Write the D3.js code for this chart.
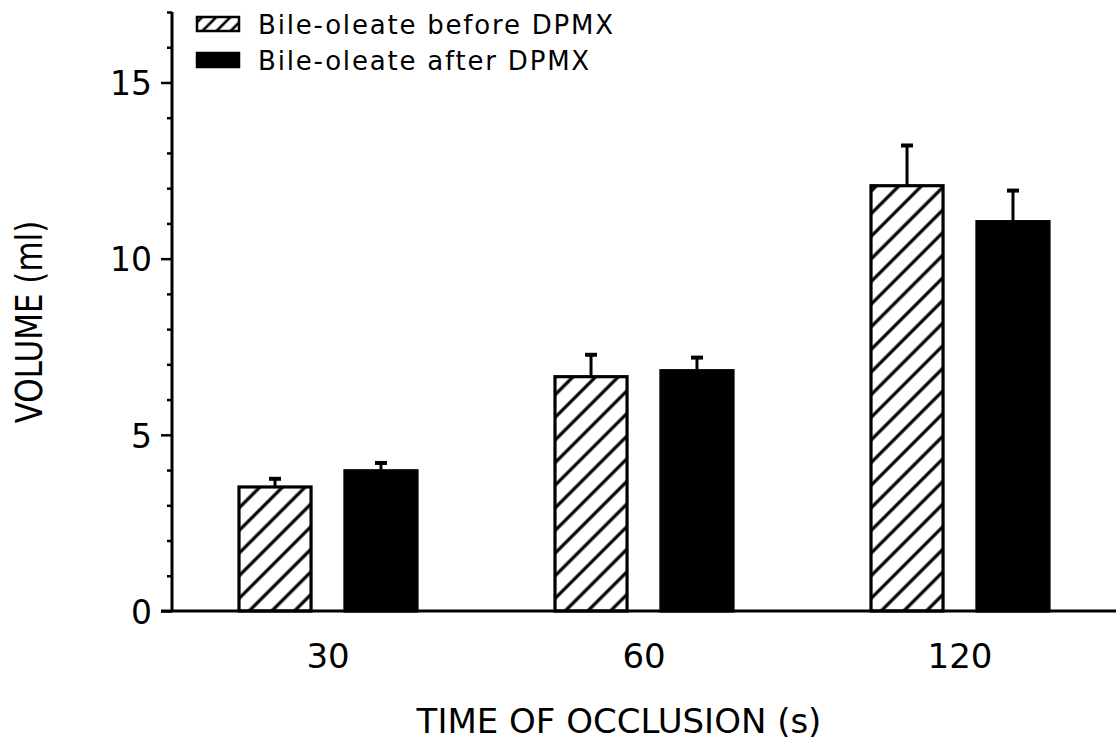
<!DOCTYPE html>
<html>
<head>
<meta charset="utf-8">
<script src="https://cdn.jsdelivr.net/npm/d3@7"></script>
<style>
  html, body { margin: 0; padding: 0; background: #fff; }
  svg text { font-family: "DejaVu Sans", sans-serif; fill: #000; }
</style>
</head>
<body>
<svg id="chart" width="1118" height="744"></svg>
<script>
const categories = ["30", "60", "120"];
const seriesNames = ["Bile-oleate before DPMX", "Bile-oleate after DPMX"];
const beforeValues = [3.52, 6.65, 12.07];
const beforeErrors = [0.26, 0.65, 1.17];
const afterValues = [3.98, 6.82, 11.05];
const afterErrors = [0.25, 0.40, 0.91];
const yMajorTicks = [0, 5, 10, 15];
const yMinorTicks = [1, 2, 3, 4, 6, 7, 8, 9, 11, 12, 13, 14, 16, 17];
const xTitle = "TIME OF OCCLUSION (s)";
const yTitle = "VOLUME (ml)";

const svg = d3.select("#chart");
const defs = svg.append("defs");

function hatch(id, spacing, sw) {
  const p = defs.append("pattern")
    .attr("id", id)
    .attr("patternUnits", "userSpaceOnUse")
    .attr("width", spacing).attr("height", spacing)
    .attr("patternTransform", "rotate(45)");
  p.append("rect").attr("width", spacing).attr("height", spacing).attr("fill", "#fff");
  p.append("line").attr("x1", spacing / 2).attr("y1", 0).attr("x2", spacing / 2).attr("y2", spacing)
    .attr("stroke", "#000").attr("stroke-width", sw);
}
hatch("hatch", 16, 3.2);
hatch("hatchSmall", 10, 2.6);

const y = d3.scaleLinear().domain([0, 17]).range([611, 12]);
const x0 = d3.scaleBand().domain(categories).range([170, 1118]).paddingInner(0).paddingOuter(0);
const x1 = d3.scaleBand().domain(seriesNames).range([69, 247]).paddingInner(0.32).paddingOuter(0);

const data = categories.map((c, i) => ({
  cat: c,
  bars: [
    { s: seriesNames[0], v: beforeValues[i], e: beforeErrors[i] },
    { s: seriesNames[1], v: afterValues[i], e: afterErrors[i] }
  ]
}));

const fills = { [seriesNames[0]]: "url(#hatch)", [seriesNames[1]]: "#000" };

const groups = svg.append("g").selectAll("g").data(data).join("g")
  .attr("transform", d => `translate(${x0(d.cat)},0)`);

groups.selectAll("g.err").data(d => d.bars).join("g").attr("class", "err")
  .each(function(d) {
    const g = d3.select(this);
    const cx = x1(d.s) + x1.bandwidth() / 2;
    g.append("line").attr("x1", cx).attr("x2", cx)
      .attr("y1", y(d.v)).attr("y2", y(d.v + d.e))
      .attr("stroke", "#000").attr("stroke-width", 3);
    g.append("line").attr("x1", cx - 6).attr("x2", cx + 6)
      .attr("y1", y(d.v + d.e) + 1).attr("y2", y(d.v + d.e) + 1)
      .attr("stroke", "#000").attr("stroke-width", 4);
  });

groups.selectAll("rect").data(d => d.bars).join("rect")
  .attr("x", d => x1(d.s))
  .attr("y", d => y(d.v))
  .attr("width", x1.bandwidth())
  .attr("height", d => y(0) - y(d.v))
  .attr("fill", d => fills[d.s])
  .attr("stroke", "#000")
  .attr("stroke-width", 3.2);

// y axis
const yAxisMajor = d3.axisLeft(y).tickValues(yMajorTicks).tickSize(11).tickPadding(9)
  .tickFormat(d3.format("d"));
const yAxisMinor = d3.axisLeft(y).tickValues(yMinorTicks).tickSize(5).tickFormat("");

const gMinor = svg.append("g").attr("transform", "translate(172,0)").call(yAxisMinor);
gMinor.select(".domain").remove();
gMinor.selectAll("line").attr("stroke", "#000").attr("stroke-width", 2.5);

const gMajor = svg.append("g").attr("transform", "translate(172,0)").call(yAxisMajor);
gMajor.select(".domain").remove();
gMajor.selectAll("line").attr("stroke", "#000").attr("stroke-width", 2.5);
gMajor.selectAll("text").attr("font-size", 33).attr("font-family", "DejaVu Sans").attr("dy", "0.37em");

svg.append("line").attr("x1", 172).attr("x2", 172).attr("y1", y(0)).attr("y2", y(17))
  .attr("stroke", "#000").attr("stroke-width", 3);

// x axis
const xAxis = d3.axisBottom(x0).tickSize(0).tickPadding(0);
const gx = svg.append("g").attr("transform", `translate(0,${y(0)})`).call(xAxis);
gx.select(".domain").remove();
gx.selectAll("text").attr("font-size", 34).attr("font-family", "DejaVu Sans")
  .attr("dy", null).attr("y", 57);

svg.append("line").attr("x1", 161).attr("x2", 1116).attr("y1", y(0)).attr("y2", y(0))
  .attr("stroke", "#000").attr("stroke-width", 3);

// titles
svg.append("text").attr("x", 619).attr("y", 733).attr("text-anchor", "middle")
  .attr("font-size", 34).text(xTitle);
svg.append("text").attr("transform", "translate(42,322) rotate(-90) scale(1,1.18)")
  .attr("text-anchor", "middle").attr("font-size", 31).text(yTitle);

// legend
const legend = svg.append("g");
const legendRows = [
  { name: seriesNames[0], fill: "url(#hatchSmall)", y: 17 },
  { name: seriesNames[1], fill: "#000", y: 53 }
];
legendRows.forEach(r => {
  legend.append("rect").attr("x", 197).attr("y", r.y).attr("width", 42).attr("height", 14)
    .attr("fill", r.fill).attr("stroke", "#000").attr("stroke-width", 2.5);
  legend.append("text").attr("x", 258).attr("y", r.y + 17).attr("font-size", 26)
    .attr("letter-spacing", 1.8).text(r.name);
});
</script>
</body>
</html>
